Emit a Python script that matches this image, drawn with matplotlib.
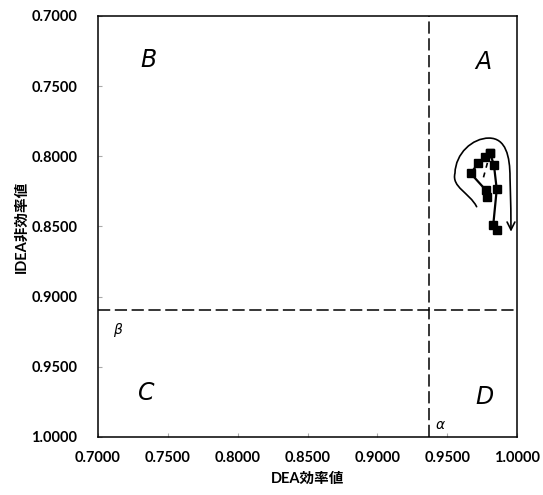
import numpy as np
import matplotlib.pyplot as plt
from matplotlib.path import Path
from matplotlib.patches import FancyArrowPatch

plt.rcParams['font.family'] = ['Lato', 'Noto Sans CJK JP', 'DejaVu Sans']

# 効率値の推移 (DEA効率値, IDEA非効率値)
path_a_x = [0.9807, 0.9771, 0.9723, 0.9668, 0.9776, 0.9783]
path_a_y = [0.7978, 0.8003, 0.8050, 0.8121, 0.8240, 0.8292]
path_b_x = [0.9807, 0.9835, 0.9855, 0.9830, 0.9855]
path_b_y = [0.7978, 0.8062, 0.8235, 0.8489, 0.8525]

# 閾値
alpha = 0.937
beta = 0.9095

# 推移方向を示す矢印 (ベジェ制御点)
arrow_x = [0.9711, 0.9660, 0.9530, 0.9556, 0.9560, 0.9680, 0.9800, 0.9920, 0.9950, 0.9950, 0.9955, 0.9957, 0.9957]
arrow_y = [0.8359, 0.8260, 0.8220, 0.8120, 0.7980, 0.7870, 0.7870, 0.7870, 0.8000, 0.8150, 0.8300, 0.8450, 0.8537]

xticks = np.arange(0.70, 1.0001, 0.05)
yticks = np.arange(0.70, 1.0001, 0.05)

fig = plt.figure(figsize=(5.43, 4.95), dpi=100)
ax = fig.add_axes([0.1805, 0.1172, 0.7716, 0.8505])

ax.set_xlim(0.70, 1.00)
ax.set_ylim(1.00, 0.70)

# 象限の区切り線
ax.axvline(alpha, color='black', lw=1.1, dashes=(8, 3))
ax.axhline(beta, color='black', lw=1.1, dashes=(8, 3))

ax.plot(path_a_x, path_a_y, color='black', lw=1.6, marker='s', ms=5.5)
ax.plot(path_b_x, path_b_y, color='black', lw=1.6, marker='s', ms=5.5)
ax.plot([0.9807, 0.9760], [0.7978, 0.8150], color='black', lw=1.2, dashes=(3, 3))

codes = [Path.MOVETO] + [Path.CURVE4] * 12
arrow = FancyArrowPatch(path=Path(np.column_stack([arrow_x, arrow_y]), codes),
                        arrowstyle='->', mutation_scale=14, color='black', lw=1.2)
ax.add_patch(arrow)

# 象限ラベル
for txt, x, y in [('A', 0.9757, 0.7328), ('B', 0.7358, 0.7314),
                  ('C', 0.7344, 0.9686), ('D', 0.9764, 0.9715)]:
    ax.text(x, y, txt, fontsize=17, style='italic', family='DejaVu Sans',
            ha='center', va='center')
ax.text(0.7136, 0.9238, 'β', fontsize=10, style='italic', family='DejaVu Sans',
        ha='center', va='center')
ax.text(0.9450, 0.9914, 'α', fontsize=10, style='italic', family='DejaVu Sans',
        ha='center', va='center')

ax.set_xticks(xticks)
ax.set_yticks(yticks)
ax.set_xticklabels([f'{v:.4f}' for v in xticks], fontweight='bold', fontsize=10.5)
ax.set_yticklabels([f'{v:.4f}' for v in yticks], fontweight='bold', fontsize=10.5)
ax.tick_params(axis='x', direction='in', length=3, color='#aaaaaa', pad=10)
ax.tick_params(axis='y', direction='in', length=3, color='#aaaaaa', pad=15)

ax.set_xlabel('DEA効率値', fontweight='bold', fontsize=10.5, labelpad=5)
ax.set_ylabel('IDEA非効率値', fontweight='bold', fontsize=10.5, labelpad=2)

for s in ax.spines.values():
    s.set_linewidth(1.1)
    s.set_color('black')

fig.savefig('out.png', dpi=100)
